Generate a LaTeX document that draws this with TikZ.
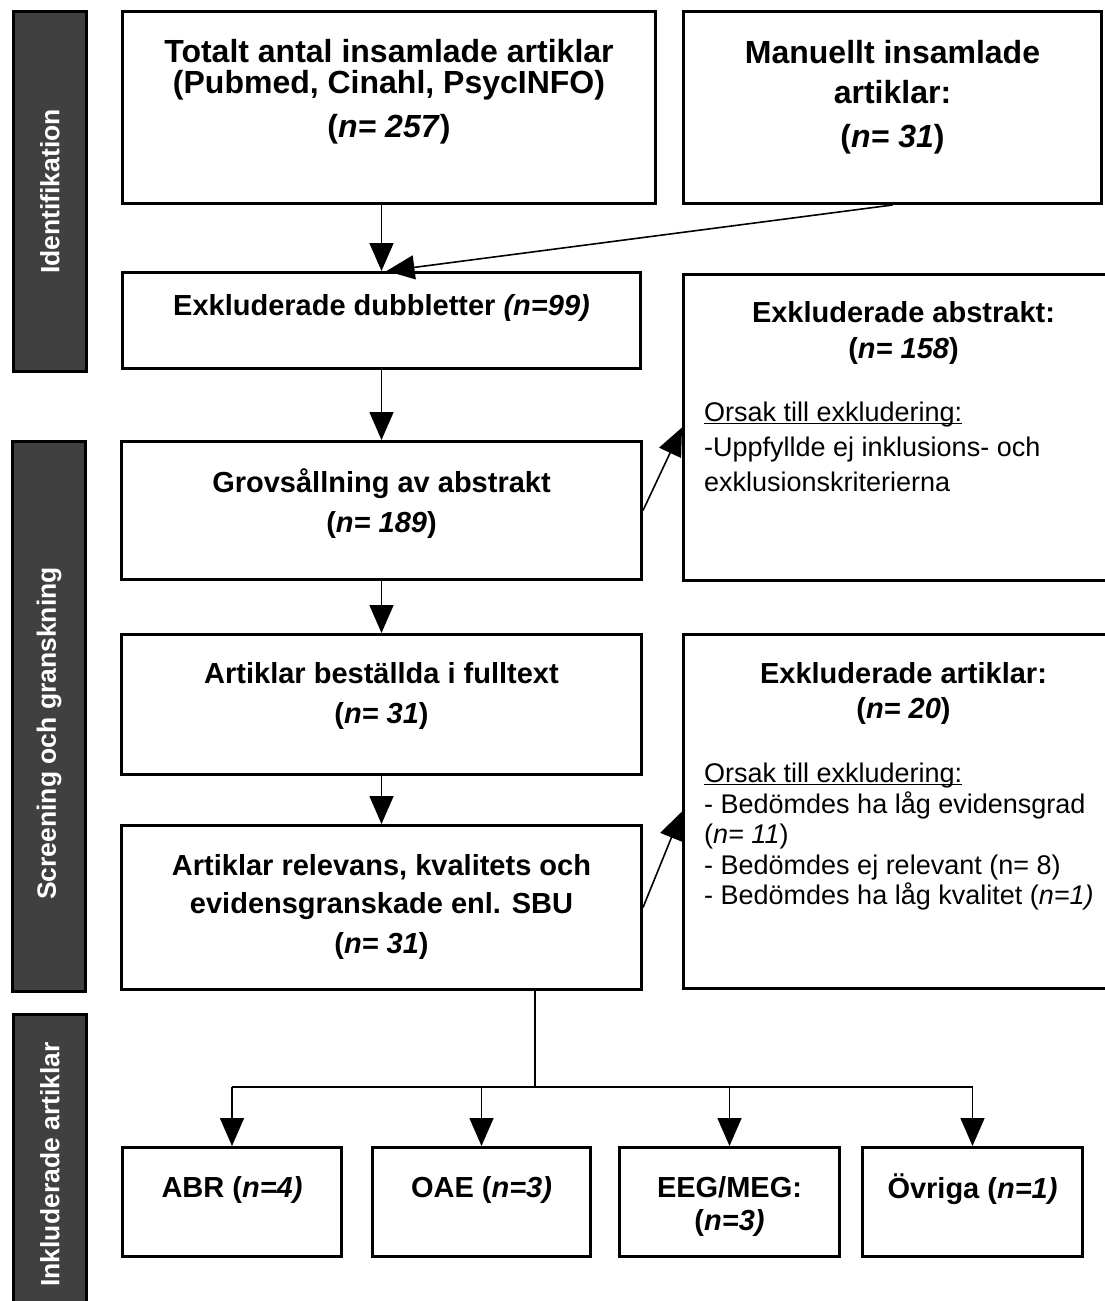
\documentclass[tikz,border=0pt]{standalone}
\usepackage{fontspec}
\setmainfont{Liberation Sans}
\usetikzlibrary{arrows.meta,positioning}
\definecolor{barfill}{HTML}{404040}
\newcommand\undl[1]{\setbox0\hbox{#1}\rlap{\rule[-2.5pt]{\wd0}{1.5pt}}#1}

\begin{document}
\begin{tikzpicture}[x=1pt,y=-1pt,
  box/.style={draw,line width=3pt,fill=white,anchor=north west},
  bar/.style={draw,line width=3pt,fill=barfill,anchor=north west},
  head/.style={font=\fontsize{29}{40}\selectfont\bfseries,align=center},
  big/.style={font=\fontsize{32}{40}\selectfont\bfseries},
  why/.style={font=\fontsize{27}{35}\selectfont,align=left,anchor=north west},
  phase/.style={font=\fontsize{26.5}{30}\selectfont\bfseries,text=white,rotate=90},
  link/.style={line width=1.6pt,-{Triangle[length=28pt,width=24pt]}}]
\tikzstyle{every node}+=[inner sep=0pt]
\useasboundingbox (0,0) rectangle (1104,1301);
\node[bar,minimum width=73pt,minimum height=360pt] (id) at (12,10) {};
\node[bar,minimum width=73pt,minimum height=550pt] (scr) at (11,440) {};
\node[bar,minimum width=73pt,minimum height=300pt] (ink) at (12,1013) {};
\node[phase] (idT) at (id.center) {Identifikation};
\node[phase] (scrT) at ([yshift=-17pt]scr.center) {Screening och granskning};
\node[phase] (inkT) at (ink.center) {Inkluderade artiklar};
\node[box,minimum width=533pt,minimum height=192pt] (tot) at (121,10) {};
\node[box,minimum width=418pt,minimum height=192pt] (man) at (682,10) {};
\node[box,minimum width=518pt,minimum height=96pt] (dub) at (121,271) {};
\node[box,minimum width=440pt,minimum height=306pt] (abs) at (682,273) {};
\node[box,minimum width=520pt,minimum height=138pt] (grov) at (120,440) {};
\node[box,minimum width=520pt,minimum height=140pt] (best) at (120,633) {};
\node[box,minimum width=520pt,minimum height=164pt] (rel) at (120,824) {};
\node[box,minimum width=440pt,minimum height=354pt] (exart) at (682,633) {};
\node[box,minimum width=219pt,minimum height=109pt] (abr) at (121,1146) {};
\node[box,minimum width=218pt,minimum height=109pt] (oae) at (371,1146) {};
\node[box,minimum width=220pt,minimum height=109pt] (eeg) at (618,1146) {};
\node[box,minimum width=220pt,minimum height=109pt] (ovr) at (861,1146) {};
\node[head,big,below=29pt of tot.north] (totT) {Totalt antal insamlade artiklar\\[-9pt] (Pubmed, Cinahl, PsycINFO)\\[4pt] (\textit{n= 257})};
\node[head,big,below=30pt of man.north] (manT) {Manuellt insamlade\\ artiklar:\\[4pt] (\textit{n= 31})};
\node[head,below=23pt of dub.north] (dubT) {Exkluderade dubbletter \textit{(n=99)}};
\node[head,below=28pt of abs.north] (absT) {Exkluderade abstrakt:\\[-4pt] (\textit{n= 158})};
\node[why] (absW) at (704,402) {\undl{Orsak till exkludering:}\\ -Uppfyllde ej inklusions- och\\ exklusionskriterierna};
\node[head,below=28pt of grov.north] (grovT) {Grovsållning av abstrakt\\ (\textit{n= 189})};
\node[head,below=29pt of best.north] (bestT) {Artiklar beställda i fulltext\\ (\textit{n= 31})};
\node[head,below=30pt of rel.north] (relT) {Artiklar relevans, kvalitets och\\[-2pt] evidensgranskade enl. SBU\\ (\textit{n= 31})};
\node[head,below=29pt of exart.north] (exartT) {Exkluderade artiklar:\\[-5pt] (\textit{n= 20})};
\node[why,font=\fontsize{27}{30.5}\selectfont] (exartW) at (704,763) {\undl{Orsak till exkludering:}\\ - Bedömdes ha låg evidensgrad\\ (\textit{n= 11})\\ - Bedömdes ej relevant (n= 8)\\ - Bedömdes ha låg kvalitet (\textit{n=1)}};
\node[head,below=30pt of abr.north] (abrT) {ABR (\textit{n=4)}};
\node[head,below=30pt of oae.north] (oaeT) {OAE (\textit{n=3)}};
\node[head,below=30pt of eeg.north] (eegT) {EEG/MEG:\\[-7pt] (\textit{n=3)}};
\node[head,below=28pt of ovr.north] (ovrT) {Övriga (\textit{n=1)}};
\draw[link] (dub.north |- tot.south) -- (dub.north);
\draw[link] (man.south) -- ([xshift=5pt]dub.north);
\draw[link] (dub.south) -- (grov.north);
\draw[link] (grov.east) -- (abs.west);
\draw[link] (grov.south) -- (best.north);
\draw[link] (best.south) -- (rel.north);
\draw[link] (rel.east) -- (exart.west);
\coordinate (fork) at (535,1087);
\draw[line width=1.6pt] (fork |- rel.south) -- (fork);
\draw[line width=1.6pt] (abr.north |- fork) -- (ovr.north |- fork);
\foreach \b in {abr,oae,eeg,ovr}
  \draw[link] (\b.north |- fork) -- (\b.north);
\end{tikzpicture}
\end{document}
